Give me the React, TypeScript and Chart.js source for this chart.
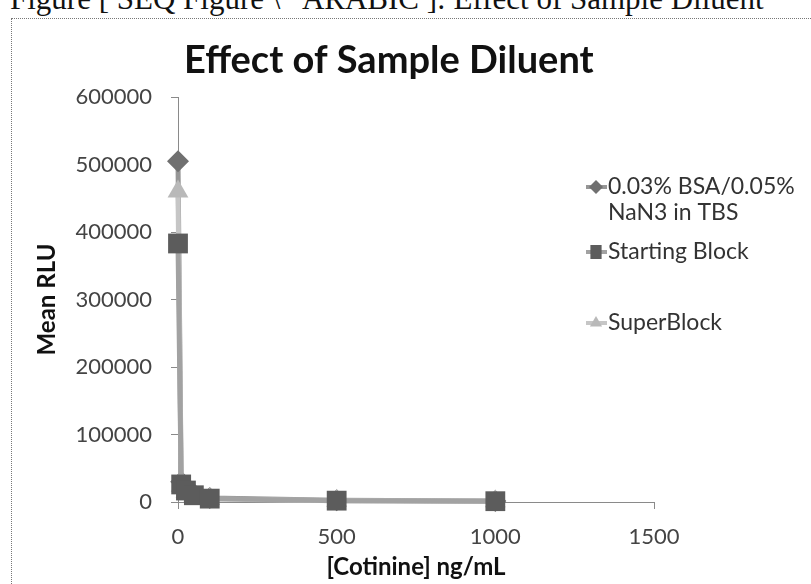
import React, { useEffect, useRef } from 'react';
import { Chart, registerables } from 'chart.js';

Chart.register(...registerables);

// Cotinine concentration (ng/mL) for each standard
const concentrations = [0, 10, 25, 50, 100, 500, 1000];

// Mean RLU per diluent
const bsaTbs = [505000, 30000, 20000, 12000, 6000, 2500, 1500];
const startingBlock = [383000, 26000, 17000, 10000, 5000, 2000, 1200];
const superBlock = [460000, 24000, 15000, 9000, 4500, 1800, 1000];

const seriesLabels = [['0.03% BSA/0.05%', 'NaN3 in TBS'], ['Starting Block'], ['SuperBlock']];

const xTickValues = [0, 500, 1000, 1500];
const yTickValues = [0, 100000, 200000, 300000, 400000, 500000, 600000];

const CAPTION = 'Figure [ SEQ Figure \\* ARABIC ]: Effect of Sample Diluent';
const TITLE = 'Effect of Sample Diluent';

const FONT = 'Lato, "Open Sans", "DejaVu Sans", sans-serif';

const toPoints = (ys: number[]) => concentrations.map((x, i) => ({ x, y: ys[i] }));

function markerPath(ctx: CanvasRenderingContext2D, style: string, x: number, y: number, r: number) {
  ctx.beginPath();
  if (style === 'rectRot') {
    ctx.moveTo(x, y - r);
    ctx.lineTo(x + r, y);
    ctx.lineTo(x, y + r);
    ctx.lineTo(x - r, y);
  } else if (style === 'rect') {
    ctx.rect(x - r * 0.8, y - r, r * 1.6, r * 2);
  } else {
    ctx.moveTo(x, y - r);
    ctx.lineTo(x + r * 0.87, y + r * 0.5);
    ctx.lineTo(x - r * 0.87, y + r * 0.5);
  }
  ctx.closePath();
}

// Heading drawn above the plot
const headingPlugin = {
  id: 'heading',
  afterDraw(chart: any) {
    const { ctx } = chart;
    ctx.save();
    ctx.font = `bold 38px ${FONT}`;
    ctx.fillStyle = '#111';
    ctx.textAlign = 'left';
    ctx.textBaseline = 'alphabetic';
    ctx.fillText(TITLE, 172, 54);
    ctx.restore();
  },
};

// Legend on the right with uneven row spacing
const sideLegendPlugin = {
  id: 'sideLegend',
  afterDraw(chart: any) {
    const { ctx } = chart;
    const rows = [168, 233, 304];
    ctx.save();
    chart.data.datasets.forEach((ds: any, i: number) => {
      const y = rows[i];
      ctx.strokeStyle = ds.borderColor;
      ctx.lineWidth = 4;
      ctx.beginPath();
      ctx.moveTo(574, y);
      ctx.lineTo(595, y);
      ctx.stroke();
      ctx.fillStyle = ds.pointBackgroundColor;
      markerPath(ctx, ds.pointStyle, 584, y, 7);
      ctx.fill();
      ctx.fillStyle = '#333';
      ctx.font = `23px ${FONT}`;
      ctx.textAlign = 'left';
      ctx.textBaseline = 'middle';
      seriesLabels[i].forEach((line, j) => ctx.fillText(line, 596, y + j * 26));
    });
    ctx.restore();
  },
};

export default function App() {
  const canvasRef = useRef<HTMLCanvasElement | null>(null);

  useEffect(() => {
    if (!canvasRef.current) return;
    const tickFont = { family: FONT, size: 22 };
    const titleFont = { family: FONT, size: 24, weight: 'bold' as const };
    const axisGrid = {
      display: true,
      drawOnChartArea: false,
      drawTicks: true,
      tickLength: 7,
      color: '#8a8a8a',
    };
    const axisBorder = { display: true, color: '#8a8a8a', width: 1, dash: [1, 1] };
    const chart = new Chart(canvasRef.current, {
      type: 'line',
      data: {
        datasets: [
          {
            label: seriesLabels[0].join(' '),
            data: toPoints(bsaTbs),
            borderColor: '#969696',
            borderWidth: 5,
            pointStyle: 'rectRot',
            pointRadius: 11,
            pointBackgroundColor: '#707070',
            pointBorderColor: '#707070',
            pointBorderWidth: 0,
            order: 3,
            clip: false,
          },
          {
            label: seriesLabels[1].join(' '),
            data: toPoints(startingBlock),
            borderColor: '#a2a2a2',
            borderWidth: 5,
            pointStyle: 'rect',
            pointRadius: 14,
            pointBackgroundColor: '#5c5c5c',
            pointBorderColor: '#5c5c5c',
            pointBorderWidth: 0,
            order: 1,
            clip: false,
          },
          {
            label: seriesLabels[2].join(' '),
            data: toPoints(superBlock),
            borderColor: '#c6c6c6',
            borderWidth: 5,
            pointStyle: 'triangle',
            pointRadius: 12,
            pointBackgroundColor: '#b9b9b9',
            pointBorderColor: '#b9b9b9',
            pointBorderWidth: 0,
            order: 2,
            clip: false,
          },
        ] as any,
      },
      options: {
        responsive: false,
        animation: false,
        devicePixelRatio: 1,
        layout: { padding: { top: 78, right: 157, left: 0, bottom: 0 } },
        plugins: {
          legend: { display: false },
          tooltip: { enabled: false },
          title: { display: false },
        },
        scales: {
          x: {
            type: 'linear',
            min: xTickValues[0],
            max: xTickValues[xTickValues.length - 1],
            afterBuildTicks: (s: any) => {
              s.ticks = xTickValues.map((v) => ({ value: v }));
            },
            afterFit: (s: any) => {
              s.height = 82;
            },
            ticks: {
              color: '#444',
              font: tickFont,
              padding: 15,
              maxRotation: 0,
              callback: (v: any) => String(v),
            },
            grid: axisGrid,
            border: axisBorder,
            title: {
              display: true,
              text: '[Cotinine] ng/mL',
              color: '#111',
              font: titleFont,
              padding: { top: 0, bottom: 2 },
            },
          },
          y: {
            type: 'linear',
            min: yTickValues[0],
            max: yTickValues[yTickValues.length - 1],
            afterBuildTicks: (s: any) => {
              s.ticks = yTickValues.map((v) => ({ value: v }));
            },
            afterFit: (s: any) => {
              s.width = 166;
            },
            ticks: {
              color: '#444',
              font: tickFont,
              padding: 19,
              callback: (v: any) => String(v),
            },
            grid: axisGrid,
            border: axisBorder,
            title: {
              display: true,
              text: 'Mean RLU',
              color: '#111',
              font: titleFont,
              padding: { top: 21, bottom: 0 },
            },
          },
        },
      } as any,
      plugins: [headingPlugin, sideLegendPlugin],
    });
    return () => chart.destroy();
  }, []);

  return (
    <div
      style={{
        position: 'fixed',
        left: 0,
        top: 0,
        width: 811,
        height: 584,
        overflow: 'hidden',
        background: '#fff',
      }}
    >
      <div
        style={{
          position: 'absolute',
          left: 10,
          top: -17,
          whiteSpace: 'nowrap',
          font: '31px "Liberation Serif", "DejaVu Serif", serif',
          lineHeight: '31px',
          color: '#111',
        }}
      >
        {CAPTION}
      </div>
      <div
        style={{
          position: 'absolute',
          left: 11,
          top: 18,
          right: -10,
          bottom: -10,
          borderTop: '1px dotted #777',
          borderLeft: '1px dotted #777',
        }}
      />
      <canvas
        ref={canvasRef}
        width={799}
        height={565}
        style={{ position: 'absolute', left: 12, top: 19, width: 799, height: 565 }}
      />
    </div>
  );
}
